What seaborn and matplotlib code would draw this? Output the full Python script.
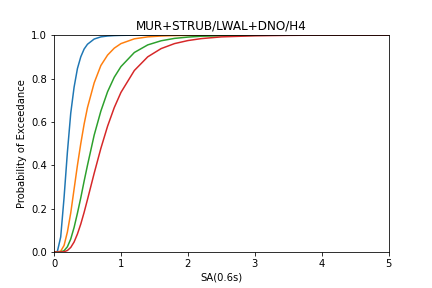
import matplotlib
matplotlib.use("Agg")
import matplotlib.pyplot as plt
import seaborn as sns
import pandas as pd

sa = [0, 0.05, 0.1, 0.15, 0.2, 0.25, 0.3, 0.35, 0.4, 0.45, 0.5, 0.6, 0.7, 0.8, 0.9,
      1.0, 1.2, 1.4, 1.6, 1.8, 2.0, 2.2, 2.5, 3.0, 3.5, 4.0, 5.0]

ds1 = [0, 0.002, 0.069, 0.25, 0.46, 0.64, 0.76, 0.846, 0.90, 0.936, 0.958, 0.982, 0.992, 0.996, 0.998,
       0.999, 1, 1, 1, 1, 1, 1, 1, 1, 1, 1, 1]
ds2 = [0, 0, 0.004, 0.03, 0.092, 0.18, 0.29, 0.40, 0.50, 0.59, 0.666, 0.78, 0.86, 0.908, 0.94,
       0.961, 0.983, 0.992, 0.996, 0.998, 0.999, 1, 1, 1, 1, 1, 1]
ds3 = [0, 0, 0.0005, 0.006, 0.024, 0.06, 0.113, 0.179, 0.25, 0.327, 0.40, 0.539, 0.65, 0.739, 0.806,
       0.855, 0.92, 0.955, 0.974, 0.985, 0.991, 0.995, 0.997, 0.999, 1, 1, 1]
ds4 = [0, 0, 0.0001, 0.001, 0.007, 0.021, 0.046, 0.083, 0.129, 0.183, 0.242, 0.363, 0.478, 0.58, 0.666,
       0.736, 0.837, 0.90, 0.938, 0.961, 0.975, 0.984, 0.992, 0.997, 0.999, 1, 1]

states = ["DS1", "DS2", "DS3", "DS4"]
series = [ds1, ds2, ds3, ds4]

rows = []
for name, vals in zip(states, series):
    for x, y in zip(sa, vals):
        rows.append({"SA": x, "PoE": y, "state": name})
df = pd.DataFrame(rows)

fig, ax = plt.subplots(figsize=(6, 4), dpi=72)
fig.subplots_adjust(left=0.125, right=0.9, top=0.878, bottom=0.125)
sns.lineplot(data=df, x="SA", y="PoE", hue="state", hue_order=states,
             palette=["#1f77b4", "#ff7f0e", "#2ca02c", "#d62728"],
             legend=False, ax=ax, linewidth=1.5)
ax.set_xlim(0, 5)
ax.set_ylim(0, 1)
ax.set_xlabel("SA(0.6s)")
ax.set_ylabel("Probability of Exceedance")
ax.set_title("MUR+STRUB/LWAL+DNO/H4")
fig.savefig("out.png", dpi=72)
